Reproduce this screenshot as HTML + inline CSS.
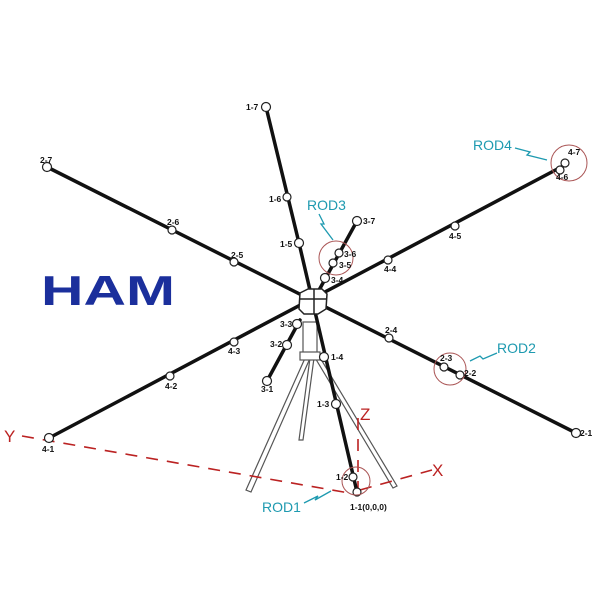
<!DOCTYPE html>
<html><head><style>body{margin:0;background:#fff}svg{display:block}</style></head><body>
<svg width="603" height="603" viewBox="0 0 603 603" xmlns="http://www.w3.org/2000/svg" font-family="Liberation Sans, sans-serif">
<rect width="603" height="603" fill="#fff"/>
<text x="41" y="305" font-size="42" font-weight="bold" fill="#1b2f9c" textLength="134" lengthAdjust="spacingAndGlyphs">HAM</text>
<g stroke="#555" stroke-width="1.2" fill="#fff">
<polygon points="306,356 311,356 251,492 246,490"/>
<polygon points="310,358 314,358 303,440 299,440"/>
<polygon points="314,356 319,356 397,486 393,488"/>
<rect x="303" y="322" width="14" height="36"/>
<rect x="300" y="352" width="20" height="8"/>
</g>
<g stroke="#b22" stroke-width="1.6" stroke-dasharray="12,9" fill="none">
<line x1="22" y1="436" x2="355" y2="494"/>
<line x1="360" y1="490" x2="432" y2="470"/>
<line x1="358" y1="418" x2="358" y2="490"/>
</g>
<g fill="#b22" font-size="17"><text x="4" y="442">Y</text><text x="432" y="476">X</text><text x="360" y="420">Z</text></g>
<g stroke="#111" stroke-width="3.5" fill="none" stroke-linecap="round">
<polyline points="266,107 299,243 357,492"/>
<line x1="47" y1="167" x2="576" y2="433"/>
<line x1="49" y1="438" x2="565" y2="165"/>
<line x1="267" y1="381" x2="300" y2="320"/>
<line x1="318" y1="292" x2="357" y2="221"/>
</g>
<g stroke="#222" stroke-width="1.5" fill="#fff">
<polygon points="300,293 308,289 322,289 327,294 326,309 318,314 304,314 299,309"/>
<line x1="300" y1="299" x2="326" y2="299"/>
<line x1="314" y1="289" x2="314" y2="314"/>
</g>
<g fill="#fff" stroke="#222" stroke-width="1.2">
<circle cx="266" cy="107" r="4.5"/><circle cx="287" cy="197" r="4"/><circle cx="299" cy="243" r="4.5"/><circle cx="324" cy="357" r="4.5"/><circle cx="336" cy="404" r="4.5"/><circle cx="353" cy="477" r="4"/><circle cx="357" cy="492" r="4"/>
<circle cx="47" cy="167" r="4.5"/><circle cx="172" cy="230" r="4"/><circle cx="234" cy="262" r="4"/><circle cx="389" cy="338" r="4"/><circle cx="444" cy="367" r="4"/><circle cx="460" cy="375" r="4"/><circle cx="576" cy="433" r="4.5"/>
<circle cx="49" cy="438" r="4.5"/><circle cx="170" cy="376" r="4"/><circle cx="234" cy="342" r="4"/><circle cx="388" cy="260" r="4"/><circle cx="455" cy="226" r="4"/><circle cx="560" cy="170" r="4"/><circle cx="565" cy="163" r="4"/>
<circle cx="267" cy="381" r="4.5"/><circle cx="287" cy="345" r="4.5"/><circle cx="297" cy="324" r="4.5"/><circle cx="325" cy="278" r="4.5"/><circle cx="333" cy="263" r="4"/><circle cx="339" cy="253" r="4"/><circle cx="357" cy="221" r="4.5"/>
</g>
<g fill="none" stroke="#a55" stroke-width="1">
<circle cx="569" cy="163" r="18"/><circle cx="450" cy="369" r="16"/><circle cx="336" cy="258" r="17"/><circle cx="356" cy="481" r="14"/>
</g>
<g stroke="#1e9ab0" stroke-width="1.3" fill="none">
<polyline points="515,148 530,152 527,155 547,160"/>
<polyline points="470,361 480,356 483,359 497,353"/>
<polyline points="319,214 324,224 321,224 333,240"/>
<polyline points="304,503 318,496 315,500 331,491"/>
</g>
<g fill="#1e9ab0" font-size="14"><text x="473" y="150">ROD4</text><text x="497" y="353">ROD2</text><text x="307" y="210">ROD3</text><text x="262" y="512">ROD1</text></g>
<g font-size="8.5" font-weight="bold" fill="#111">
<text x="246" y="110">1-7</text><text x="269" y="202">1-6</text><text x="280" y="247">1-5</text><text x="331" y="360">1-4</text><text x="317" y="407">1-3</text><text x="336" y="480">1-2</text><text x="350" y="510">1-1(0,0,0)</text>
<text x="40" y="163">2-7</text><text x="167" y="225">2-6</text><text x="231" y="258">2-5</text><text x="385" y="333">2-4</text><text x="440" y="361">2-3</text><text x="464" y="376">2-2</text><text x="580" y="436">2-1</text>
<text x="42" y="452">4-1</text><text x="165" y="389">4-2</text><text x="228" y="354">4-3</text><text x="384" y="272">4-4</text><text x="449" y="239">4-5</text><text x="556" y="180">4-6</text><text x="568" y="155">4-7</text>
<text x="261" y="392">3-1</text><text x="270" y="347">3-2</text><text x="280" y="327">3-3</text><text x="331" y="283">3-4</text><text x="339" y="268">3-5</text><text x="344" y="257">3-6</text><text x="363" y="224">3-7</text>
</g>
</svg>
</body></html>
